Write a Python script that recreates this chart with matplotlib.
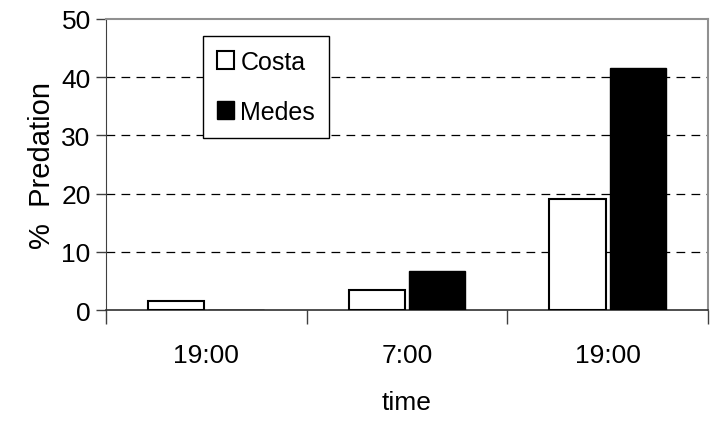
import numpy as np
import matplotlib
matplotlib.use("Agg")
import matplotlib.pyplot as plt

# data
times = ["19:00", "7:00", "19:00"]
costa = [1.5, 3.4, 19.0]
medes = [0.0, 6.7, 41.6]

BAR_WIDTH = 0.28
BAR_OFFSET = 0.15

plt.rcParams['font.family'] = ['Liberation Sans', 'DejaVu Sans']

fig = plt.figure(figsize=(7.1, 4.31), dpi=100)
ax = fig.add_axes([0.1493, 0.2784, 0.8477, 0.6752])

x = np.arange(len(times))
ax.bar(x - BAR_OFFSET, costa, BAR_WIDTH, color='white', edgecolor='black',
       linewidth=1.5, label='Costa', zorder=3)
ax.bar(x + BAR_OFFSET, medes, BAR_WIDTH, color='black', edgecolor='black',
       linewidth=1.0, label='Medes', zorder=3)

ax.set_xlim(-0.5, len(times) - 0.5)
ax.set_ylim(0, 50)
ax.set_yticks([0, 10, 20, 30, 40, 50])
ax.tick_params(axis='y', labelsize=19, length=7, width=1, color='#404040', pad=4)

# category labels centred, tick marks at category boundaries
ax.set_xticks(x)
ax.set_xticklabels(times)
ax.tick_params(axis='x', which='major', length=0, labelsize=19, pad=24)
ax.set_xticks(np.arange(-0.5, len(times)), minor=True)
ax.tick_params(axis='x', which='minor', length=10, width=1, color='#404040')

for y in [10, 20, 30, 40]:
    ax.axhline(y, color='black', linewidth=0.9, dashes=(7, 5), zorder=1)

ax.spines['left'].set_color('#404040')
ax.spines['bottom'].set_color('#303030')
ax.spines['bottom'].set_linewidth(1.2)
ax.spines['top'].set_color('#909090')
ax.spines['right'].set_color('#909090')
ax.spines['top'].set_linewidth(1.5)
ax.spines['right'].set_linewidth(1.5)

ax.set_ylabel('%  Predation', fontsize=21, labelpad=4)
ax.set_xlabel('time', fontsize=19, labelpad=16)

leg = ax.legend(loc='upper left', bbox_to_anchor=(0.161, 0.942), borderaxespad=0,
                fontsize=18, frameon=True, fancybox=False, framealpha=1,
                edgecolor='black', handlelength=0.7, handleheight=0.7,
                handletextpad=0.25, labelspacing=1.05, borderpad=0.55)
leg.get_frame().set_linewidth(1.0)

fig.savefig('out.png', dpi=100)
